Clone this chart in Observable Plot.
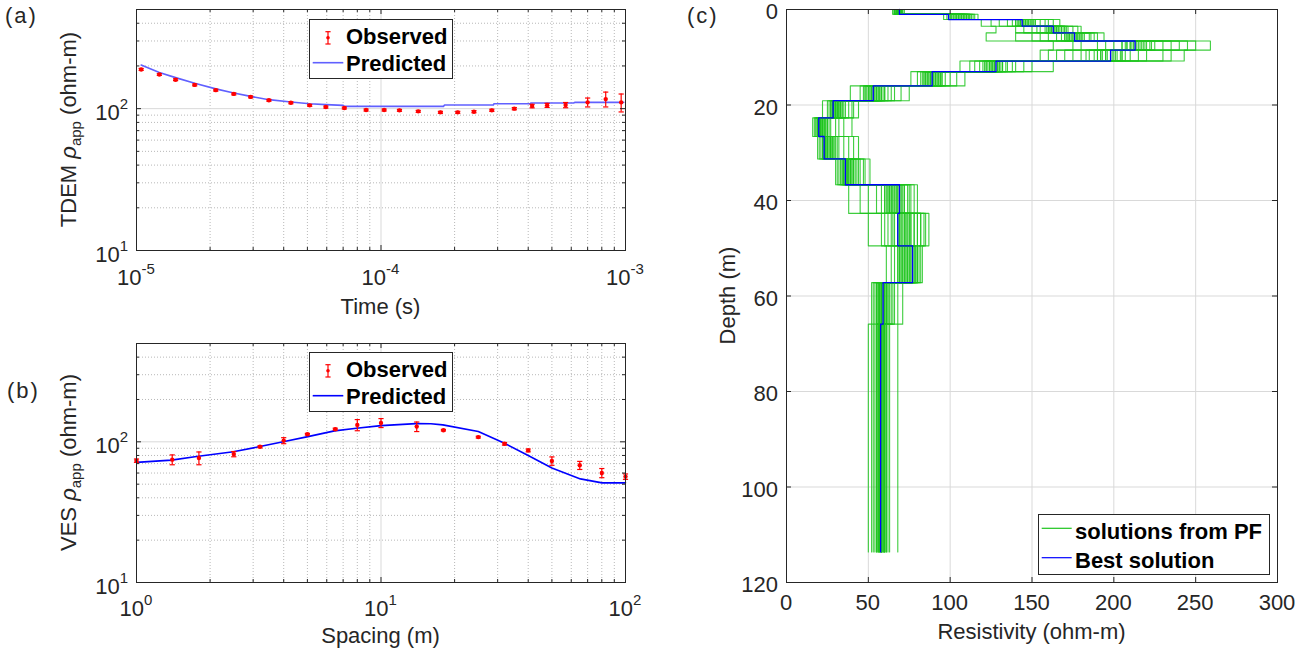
<!DOCTYPE html>
<html><head><meta charset="utf-8">
<script src="https://cdn.jsdelivr.net/npm/d3@7"></script>
<script src="https://cdn.jsdelivr.net/npm/@observablehq/plot@0.6"></script>
<style>
body{margin:0;background:#fff;}
#fig{position:relative;width:1311px;height:652px;overflow:hidden;background:#fff;font-family:"Liberation Sans",Arial,Helvetica,sans-serif;}
.panel{position:absolute;}
.panel svg{display:block;}
#overlay{position:absolute;left:0;top:0;pointer-events:none;}
</style></head>
<body><div id="fig"></div>
<script>
// ---------------- DATA ----------------
// (a) TDEM
const tdemTime = [1.045e-5,1.24e-5,1.445e-5,1.73e-5,2.11e-5,2.5e-5,2.93e-5,3.48e-5,4.28e-5,5.11e-5,5.95e-5,7.08e-5,8.69e-5,1.03e-4,1.19e-4,1.42e-4,1.75e-4,2.06e-4,2.40e-4,2.84e-4,3.51e-4,4.15e-4,4.78e-4,5.69e-4,7.0e-4,8.3e-4,9.6e-4];
const tdemObs  = [189,174,160,147,135,127,121,114.5,110,105.5,102.6,101,97.8,97.8,97.3,95.7,94.2,94.2,95.2,97.3,100,104.3,105.5,106,110.8,116.8,110.8];
const tdemErr  = [3,2.5,2.4,2.2,2,1.9,1.8,1.7,1.7,1.6,1.6,1.5,1.5,1.5,1.5,1.5,1.5,1.5,1.6,1.7,1.8,3,3.5,4.5,8,14,16];
const tdemPredTime = [1.045e-5,1.24e-5,1.445e-5,1.73e-5,2.11e-5,2.5e-5,2.93e-5,3.48e-5,4.28e-5,5.11e-5,5.95e-5,7.0e-5,7.05e-5,1.80e-4,1.82e-4,2.88e-4,2.9e-4,4.08e-4,4.1e-4,6.14e-4,6.2e-4,9.84e-4];
const tdemPredRho  = [203,179.6,165.5,151,137.8,129,122,115.7,111.3,108.4,106.7,105.5,103.8,103.8,106.1,106.1,108.4,108.4,109.6,109.6,110.8,110.8];
// (b) VES
const vesSpacing = [1,1.4,1.8,2.5,3.2,4,5,6.5,8,10,14,18,25,32,40,50,65,80,100];
const vesObs     = [73.5,74.7,76.7,81.8,92.2,102,113.3,123,131.9,136.3,128.3,121,108,96.8,86.9,73.1,68.1,60.1,56.6];
const vesErr     = [2,6,8,3.5,1.5,5,1.5,2,12,10,10,1.5,1.5,2,2,5,4.5,4.5,2.5];
const vesPredSpacing = [1,1.39,1.76,2.49,3.16,3.98,4.97,6.45,7.94,10,13.9,16,17.9,25,32,40,50,65.4,80.2,100];
const vesPredRho     = [71.4,74.1,78.7,84.9,92.2,100,108.4,119.6,125,130.4,134.8,134.5,131.9,118.3,97.6,80,65.2,54.5,51.1,51.1];
// (c) layered models
const layerTop    = [0,1.0,2.1,3.5,4.9,6.6,8.5,10.8,13.0,16.0,19.1,22.7,26.6,31.3,36.7,42.7,49.5,57.2,65.9];
const modelBottom = 113.6;
const bestRes     = [69,99,144,163,176,213,198,128,89,53,28.5,19.7,23,36,69,68,77,59,57.5];
// one row per layer, one column per particle-filter solution
const pfRes = [
  [66,68,70,65,69,67,71,72,68,69,66,70,67,69,71,68,65,70,69,67, 68,69,70,67,68,69,66,70,68,67,69,68],
  [100,104,110,117,96,102,108,112,98,106,114,101,103,109,115,99,105,111,107,113, 101,103,105,107,109,111,100,104,106,108,110,112],
  [119,145,150,138,167,142,155,130,148,160,125,146,152,140,158,135,147,163,143,151, 140,142,144,146,148,150,141,143,145,147,149,152],
  [128,160,165,170,180,150,158,162,175,140,166,155,168,172,145,161,178,164,153,169, 160,162,164,166,168,170,159,161,163,165,167,171],
  [122,170,180,185,194,150,165,175,188,160,178,182,140,172,190,168,177,186,155,173, 170,172,174,176,178,180,171,173,175,177,179,181],
  [163,200,215,230,259,190,210,222,245,180,205,218,235,250,195,212,225,240,175,208, 205,208,211,214,217,220,207,210,213,216,219,223],
  [155,180,190,205,243,170,185,200,220,165,188,195,210,230,175,192,215,235,160,183, 190,193,196,199,202,205,192,195,198,201,204,207],
  [106,120,125,130,163,115,122,127,135,140,118,124,129,132,150,112,126,138,145,121, 122,124,126,128,130,132,123,125,127,129,131,134],
  [76,85,88,92,109,80,86,90,95,100,82,87,91,94,104,84,89,93,97,83, 84,86,88,90,92,94,85,87,89,91,93,95],
  [39,50,54,58,75,45,52,56,60,66,48,53,57,62,70,47,55,59,64,51, 48,50,52,54,56,58,49,51,53,55,57,60],
  [22,28,30,32,44,25,29,31,34,38,26,30,33,36,41,27,31,35,28,40, 27,28,29,30,31,32,33,34,28,30,32,29],
  [16,19,21,23,40,18,20,22,25,30,17,21,24,27,35,19,22,26,20,32, 18,19,20,21,22,23,24,25,19,21,23,20],
  [19,22,25,28,44,21,24,27,30,35,20,26,29,32,38,23,27,31,25,41, 22,23,24,25,26,27,28,29,23,25,27,24],
  [30,34,37,40,51,32,35,38,42,45,33,36,39,43,48,31,37,41,44,47, 34,35,36,37,38,39,40,41,35,37,39,36],
  [38,60,65,70,80,50,62,67,72,75,55,63,68,74,78,45,64,71,76,58, 60,62,64,66,68,70,72,61,63,65,67,69],
  [50,65,70,75,87,60,66,72,78,82,62,68,73,80,85,58,69,76,84,64, 68,70,72,74,76,78,80,82,69,71,73,75],
  [61,70,74,77,83,66,72,75,79,81,68,73,76,80,82,64,71,78,80,69, 68,69,70,71,72,73,74,75,76,77,78,79],
  [52,56,58,61,71,54,57,60,63,66,55,58,62,64,68,53,59,61,65,57, 55,56,57,58,59,60,61,62,56,58,60,57],
  [50,55,57,59,68,53,56,58,60,62,54,57,58,61,63,52,56,59,60,55, 56,57,58,59,60,61,56,57,58,59,60,58]
];
// ticks
const tdemXMajor = [1e-5,1e-4,1e-3];
const tdemXMinor = [2e-5,3e-5,4e-5,5e-5,6e-5,7e-5,8e-5,9e-5,2e-4,3e-4,4e-4,5e-4,6e-4,7e-4,8e-4,9e-4];
const tdemXExp   = ["-5","-4","-3"];
const vesXMajor  = [1,10,100];
const vesXMinor  = [2,3,4,5,6,7,8,9,20,30,40,50,60,70,80,90];
const vesXExp    = ["0","1","2"];
const rhoYMajor  = [10,100];
const rhoYMinor  = [20,30,40,50,60,70,80,90,200,300,400];
const rhoYExp    = ["1","2"];
const resXTicks  = [0,50,100,150,200,250,300];
const depthYTicks= [0,20,40,60,80,100,120];

// ---------------- STYLE ----------------
const FONT = '"Liberation Sans", Arial, Helvetica, sans-serif';
const AX = "#262626", TXT = "#262626";
const FS = 22, FS_SUP = 15;
const GRID_MAJOR = "#d9d9d9", GRID_MINOR = "#b8b8b8";
const RED = "#ff0000", BLUE = "#0000ff", LIGHTBLUE = "#6060ff", GREEN = "#1cc41c";

const fig = d3.select("#fig");

const capSymbol = {draw(ctx, size){ const w = Math.sqrt(size/Math.PI); ctx.moveTo(-w,0); ctx.lineTo(w,0); }};

function sc(plot, k, v){ return plot.scale(k).apply(v); }

function txt(sel, x, y, s, o = {}) {
  return sel.append("text").attr("x", x).attr("y", y)
    .attr("font-family", FONT).attr("font-size", o.size || FS)
    .attr("font-weight", o.weight || "normal")
    .attr("fill", o.fill || TXT).attr("text-anchor", o.anchor || "start").text(s);
}
function powLabel(sel, x, y, anchor, exp) {
  const t = sel.append("text").attr("x", x).attr("y", y).attr("text-anchor", anchor)
    .attr("font-family", FONT).attr("font-size", FS).attr("fill", TXT);
  t.append("tspan").text("10");
  t.append("tspan").attr("dy", -11).attr("font-size", FS_SUP).text(exp);
}
function rhoLabel(sel, x, y, prefix) {
  const t = sel.append("text").attr("transform", `translate(${x},${y}) rotate(-90)`)
    .attr("text-anchor", "middle").attr("font-family", FONT).attr("font-size", FS).attr("fill", TXT);
  t.append("tspan").text(prefix + " ");
  t.append("tspan").attr("font-style", "italic").text("ρ");
  t.append("tspan").attr("dy", 5).attr("font-size", FS_SUP).text("app");
  t.append("tspan").attr("dy", -5).text(" (ohm-m)");
}

function logPanel(cfg) {
  const {w, h, mt, mb, ml, mr, xDomain, xMajor, xMinor, marks} = cfg;
  const fw = w - ml - mr, fh = h - mt - mb;
  return Plot.plot({
    width: w, height: h, marginTop: mt, marginBottom: mb, marginLeft: ml, marginRight: mr,
    x: {type: "log", domain: xDomain, axis: null},
    y: {type: "log", domain: [10, 500], axis: null},
    style: {background: "transparent", overflow: "visible", fontFamily: FONT},
    marks: [
      Plot.ruleX(xMinor, {x: d => d, stroke: GRID_MINOR, strokeDasharray: "1,2"}),
      Plot.ruleY(rhoYMinor, {y: d => d, stroke: GRID_MINOR, strokeDasharray: "1,2"}),
      Plot.ruleX(xMajor, {x: d => d, stroke: GRID_MAJOR}),
      Plot.ruleY(rhoYMajor, {y: d => d, stroke: GRID_MAJOR}),
      ...marks,
      Plot.tickX(xMajor, {x: d => d, insetTop: fh - 5, stroke: AX}),
      Plot.tickX(xMajor, {x: d => d, insetBottom: fh - 5, stroke: AX}),
      Plot.tickX(xMinor, {x: d => d, insetTop: fh - 3, stroke: AX}),
      Plot.tickX(xMinor, {x: d => d, insetBottom: fh - 3, stroke: AX}),
      Plot.tickY(rhoYMajor, {y: d => d, insetRight: fw - 5, stroke: AX}),
      Plot.tickY(rhoYMajor, {y: d => d, insetLeft: fw - 5, stroke: AX}),
      Plot.tickY(rhoYMinor, {y: d => d, insetRight: fw - 3, stroke: AX}),
      Plot.tickY(rhoYMinor, {y: d => d, insetLeft: fw - 3, stroke: AX}),
      Plot.frame({stroke: AX})
    ]
  });
}

function obsMarks(xs, vals, errs) {
  const data = xs.map((x, i) => ({x, v: vals[i], lo: vals[i] - errs[i], hi: vals[i] + errs[i]}));
  return [
    Plot.ruleX(data, {x: "x", y1: "lo", y2: "hi", stroke: RED, strokeWidth: 1.2}),
    Plot.dot(data, {x: "x", y: "lo", symbol: capSymbol, r: 2.6, stroke: RED, fill: "none", strokeWidth: 1.2}),
    Plot.dot(data, {x: "x", y: "hi", symbol: capSymbol, r: 2.6, stroke: RED, fill: "none", strokeWidth: 1.2}),
    Plot.dot(data, {x: "x", y: "v", r: 2.2, fill: RED, stroke: "none"})
  ];
}

// ---------------- PANEL A ----------------
const cfgA = {w: 660, h: 320, mt: 9, mb: 70, ml: 136, mr: 35, xDomain: [1e-5, 1e-3], xMajor: tdemXMajor, xMinor: tdemXMinor};
cfgA.marks = [
  Plot.line(tdemPredTime.map((t, i) => ({t, r: tdemPredRho[i]})), {x: "t", y: "r", stroke: LIGHTBLUE, strokeWidth: 1.6}),
  ...obsMarks(tdemTime, tdemObs, tdemErr)
];
const plotA = logPanel(cfgA);
fig.append("div").attr("class", "panel").style("left", "0px").style("top", "0px").node().appendChild(plotA);
{
  const s = d3.select(plotA);
  const fb = cfgA.h - cfgA.mb;
  tdemXMajor.forEach((v, i) => powLabel(s, sc(plotA, "x", v), fb + 35, "middle", tdemXExp[i]));
  rhoYMajor.forEach((v, i) => powLabel(s, cfgA.ml - 8, sc(plotA, "y", v) + 12, "end", rhoYExp[i]));
  txt(s, (cfgA.ml + cfgA.w - cfgA.mr) / 2, 314, "Time (s)", {anchor: "middle"});
  rhoLabel(s, 76, (cfgA.mt + fb) / 2, "TDEM");
}

// ---------------- PANEL B ----------------
const cfgB = {w: 660, h: 332, mt: 23, mb: 70, ml: 136, mr: 35, xDomain: [1, 100], xMajor: vesXMajor, xMinor: vesXMinor};
cfgB.marks = [
  Plot.line(vesPredSpacing.map((s, i) => ({s, r: vesPredRho[i]})), {x: "s", y: "r", stroke: BLUE, strokeWidth: 1.6}),
  ...obsMarks(vesSpacing, vesObs, vesErr)
];
const plotB = logPanel(cfgB);
fig.append("div").attr("class", "panel").style("left", "0px").style("top", "320px").node().appendChild(plotB);
{
  const s = d3.select(plotB);
  const fb = cfgB.h - cfgB.mb;
  vesXMajor.forEach((v, i) => powLabel(s, sc(plotB, "x", v), fb + 34, "middle", vesXExp[i]));
  rhoYMajor.forEach((v, i) => powLabel(s, cfgB.ml - 8, sc(plotB, "y", v) + 12, "end", rhoYExp[i]));
  txt(s, (cfgB.ml + cfgB.w - cfgB.mr) / 2, 323, "Spacing (m)", {anchor: "middle"});
  rhoLabel(s, 76, (cfgB.mt + fb) / 2, "VES");
}

// ---------------- PANEL C ----------------
const layerBottom = layerTop.slice(1).concat([modelBottom]);
const pfPaths = [];
for (let j = 0; j < pfRes[0].length; j++) {
  layerTop.forEach((top, i) => {
    pfPaths.push({sol: j, res: pfRes[i][j], depth: top});
    pfPaths.push({sol: j, res: pfRes[i][j], depth: layerBottom[i]});
  });
}
const bestPath = [];
layerTop.forEach((top, i) => {
  bestPath.push({res: bestRes[i], depth: top});
  bestPath.push({res: bestRes[i], depth: layerBottom[i]});
});
const cfgC = {w: 651, h: 652, mt: 9, mb: 70, ml: 126, mr: 34};
const fwC = cfgC.w - cfgC.ml - cfgC.mr, fhC = cfgC.h - cfgC.mt - cfgC.mb;
const innerX = resXTicks.slice(1, -1), innerY = depthYTicks.slice(1, -1);
const plotC = Plot.plot({
  width: cfgC.w, height: cfgC.h, marginTop: cfgC.mt, marginBottom: cfgC.mb, marginLeft: cfgC.ml, marginRight: cfgC.mr,
  x: {domain: [0, 300], axis: null},
  y: {domain: [0, 120], reverse: true, axis: null},
  style: {background: "transparent", overflow: "visible", fontFamily: FONT},
  marks: [
    Plot.ruleX(innerX, {x: d => d, stroke: GRID_MAJOR}),
    Plot.ruleY(innerY, {y: d => d, stroke: GRID_MAJOR}),
    Plot.line(pfPaths, {x: "res", y: "depth", z: "sol", stroke: GREEN, strokeWidth: 1.1, strokeOpacity: 0.85}),
    Plot.line(bestPath, {x: "res", y: "depth", stroke: BLUE, strokeWidth: 1.3}),
    Plot.tickX(innerX, {x: d => d, insetTop: fhC - 5, stroke: AX}),
    Plot.tickX(innerX, {x: d => d, insetBottom: fhC - 5, stroke: AX}),
    Plot.tickY(innerY, {y: d => d, insetRight: fwC - 5, stroke: AX}),
    Plot.tickY(innerY, {y: d => d, insetLeft: fwC - 5, stroke: AX}),
    Plot.frame({stroke: AX})
  ]
});
fig.append("div").attr("class", "panel").style("left", "660px").style("top", "0px").node().appendChild(plotC);
{
  const s = d3.select(plotC);
  const fb = cfgC.h - cfgC.mb;
  resXTicks.forEach(v => txt(s, sc(plotC, "x", v), fb + 28, String(v), {anchor: "middle"}));
  depthYTicks.forEach(v => txt(s, cfgC.ml - 8, sc(plotC, "y", v) + 10, String(v), {anchor: "end"}));
  txt(s, (cfgC.ml + cfgC.w - cfgC.mr) / 2, 639, "Resistivity (ohm-m)", {anchor: "middle"});
  s.append("text").attr("transform", `translate(75,${(cfgC.mt + fb) / 2}) rotate(-90)`)
    .attr("text-anchor", "middle").attr("font-family", FONT).attr("font-size", FS).attr("fill", TXT).text("Depth (m)");
}

// ---------------- OVERLAY: panel labels & legends ----------------
const ov = fig.append("svg").attr("id", "overlay").attr("width", 1311).attr("height", 652);
function plab(x, y, s) {
  ov.append("text").attr("x", x).attr("y", y).attr("font-family", FONT).attr("font-size", 22)
    .attr("letter-spacing", 2).attr("fill", TXT).text(s);
}
plab(5, 23, "(a)");
plab(7, 398, "(b)");
plab(687, 23, "(c)");

function box(x, y, w, h) {
  ov.append("rect").attr("x", x + 0.5).attr("y", y + 0.5).attr("width", w).attr("height", h)
    .attr("fill", "#fff").attr("stroke", AX).attr("stroke-width", 1);
}
function seg(x1, y1, x2, y2, c, wdt) {
  ov.append("line").attr("x1", x1).attr("y1", y1).attr("x2", x2).attr("y2", y2).attr("stroke", c).attr("stroke-width", wdt);
}
function legObsPred(x0, y0, predColor) {
  box(x0, y0, 143, 59);
  const ex = x0 + 19;
  seg(ex, y0 + 12.7, ex, y0 + 25, RED, 1.2);
  seg(ex - 2.6, y0 + 12.7, ex + 2.6, y0 + 12.7, RED, 1.2);
  seg(ex - 2.6, y0 + 25, ex + 2.6, y0 + 25, RED, 1.2);
  ov.append("circle").attr("cx", ex).attr("cy", y0 + 18.8).attr("r", 1.8).attr("fill", RED);
  txt(ov, x0 + 37, y0 + 24.5, "Observed", {size: 22, weight: "bold", fill: "#000"});
  seg(x0 + 3.7, y0 + 43.7, x0 + 34.3, y0 + 43.7, predColor, 1.6);
  txt(ov, x0 + 37, y0 + 51.5, "Predicted", {size: 22, weight: "bold", fill: "#000"});
}
legObsPred(309, 19, LIGHTBLUE);
legObsPred(309, 352, BLUE);

box(1038, 514, 231, 60);
seg(1041.7, 528.3, 1071.7, 528.3, GREEN, 1.2);
txt(ov, 1075, 539, "solutions from PF", {size: 22, weight: "bold", fill: "#000"});
seg(1041.7, 557.7, 1071.7, 557.7, BLUE, 1.2);
txt(ov, 1075, 567.5, "Best solution", {size: 22, weight: "bold", fill: "#000"});
</script>
</body></html>
